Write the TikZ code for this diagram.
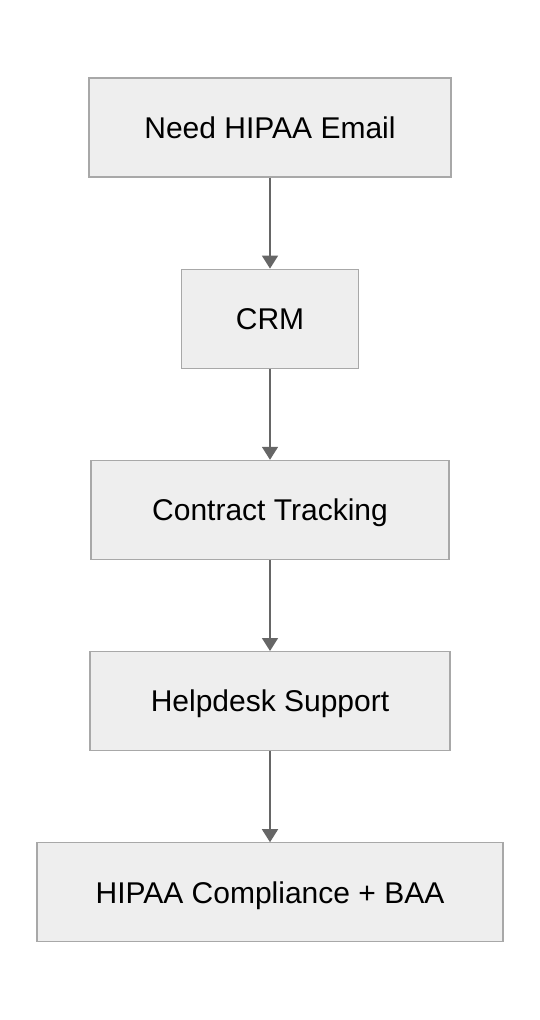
\documentclass[tikz,border=0pt]{standalone}
\usepackage{fontspec}
\setmainfont{Liberation Sans}
\usetikzlibrary{positioning,arrows.meta}

\definecolor{boxfill}{HTML}{EEEEEE}
\definecolor{boxline}{HTML}{A8A8A8}
\definecolor{arrowgray}{HTML}{666666}

\tikzset{
  stepbox/.style={draw=boxline, fill=boxfill, line width=1.2pt, minimum height=99pt,
    inner sep=0pt, text height=21.5pt, text depth=0pt, font=\fontsize{30}{35}\selectfont},
  flow/.style={-{Triangle[length=13pt,width=16pt]}, arrowgray, line width=1.6pt}
}

\begin{document}
\begin{tikzpicture}[node distance=91pt]
            \useasboundingbox (0,0) rectangle (540pt,-1020pt);
            % Boxes of the flow
            \node[stepbox, minimum width=362pt] (email) at (270pt,-127.5pt) {Need HIPAA Email};
            \node[stepbox, minimum width=177pt, below=of email] (crm) {CRM};
            \node[stepbox, minimum width=358pt, below=of crm] (contract) {Contract Tracking};
            \node[stepbox, minimum width=360pt, below=of contract] (helpdesk) {Helpdesk Support};
            \node[stepbox, minimum width=466pt, below=of helpdesk] (baa) {HIPAA Compliance + BAA};
            % Arrows
            \draw[flow] (email) -- (crm);
            \draw[flow] (crm) -- (contract);
            \draw[flow] (contract) -- (helpdesk);
            \draw[flow] (helpdesk) -- (baa);
        \end{tikzpicture}
\end{document}
